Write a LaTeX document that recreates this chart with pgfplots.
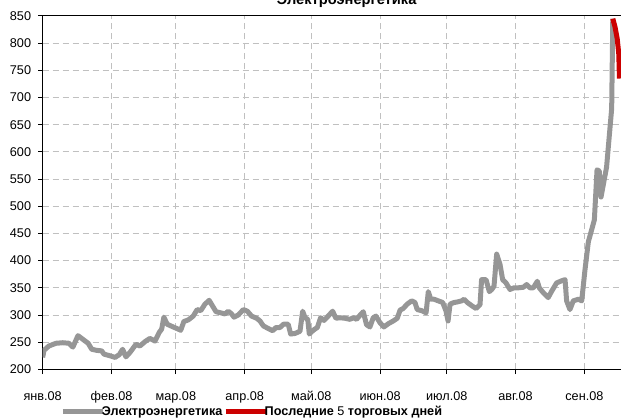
\documentclass[border=0pt]{standalone}
\usepackage{pgfplots}
\pgfplotsset{compat=1.18}
\usepackage{fontspec}
\setmainfont{Liberation Sans}
\definecolor{lgray}{RGB}{150,150,150}
\definecolor{dred}{RGB}{204,0,0}
\definecolor{gridc}{RGB}{192,192,192}

\pgfplotstableread{
day val
0 222
0.6 235
2.8 243
6 248
9.1 249
11.8 248
13.6 241
15.9 262
18.2 255
20.5 248
22.1 237
24.3 235
26.6 234
27.6 228
30.3 225
32.6 222
34.5 227
36 237
37.5 223
39.3 231
42 246
43.8 243
46.1 251
48.3 257
50.6 252
52.5 268
53.6 274
54.6 296
56.1 283
58.8 278
62.2 272
63.6 288
65.6 291
67.8 298
69.6 310
71.2 308
73.1 320
75 327
76.6 316
78.1 306
80.2 304
82.1 302
83.6 307
85.1 302
86.2 296
88.1 300
90.4 310
92.2 307
94.1 298
96.4 294
97.9 289
99.4 280
101.2 276
103.6 271
105.1 277
106.9 277
108.4 283
110.6 283
111.7 265
113.6 266
115.9 270
117.1 307
118.2 295
119.4 292
120.1 265
121.9 272
123.7 277
125.2 295
126.7 290
128.6 298
130.6 307
132.1 294
133.9 295
136.2 294
138.4 292
139.9 295
141.4 292
142.6 298
144.4 306
145.9 282
147.4 278
148.9 295
150.1 298
151.9 286
153.7 278
155.7 284
157.9 289
159.7 294
161 309
162.4 312
164.2 320
166.2 326
167.7 323
168.7 310
170.7 308
172.7 304
173.7 343
174.8 329
176.3 329
178.2 326
180.2 323
181.7 307
182.6 289
183.5 320
185.3 323
186.8 324
188.7 326
189.8 329
191.3 323
193.3 317
195.2 312
197 319
197.7 365
199.7 365
201.2 343
202.3 347
203.3 353
204.5 412
206 393
207.2 365
208.7 359
210.5 347
212.3 350
214.2 350
216.5 351
218 356
219.5 350
221 350
222.8 362
223.7 350
225.5 341
227.7 332
229.3 344
231.5 359
233.8 363
235.3 365
236 326
237.5 310
239 326
241.3 329
242.8 326
244.3 384
245.8 435
247.3 457
248.5 475
249.7 567
250.7 565
251.5 517
254 572
256.3 680
256.8 845
}\maindata

\pgfplotstableread{
day val
256.8 845
257.8 830
258.8 808
259.5 780
259.8 735
}\lastdata

\begin{document}
\begin{tikzpicture}
\begin{axis}[
  scale only axis,
  width=433.7pt, height=265pt,
  xmin=0, xmax=260.5, ymin=200, ymax=850,
  ytick={200,250,...,850},
  xtick={0,31,60,91,121,152,182,213,244},
  xticklabels={янв.08,фев.08,мар.08,апр.08,май.08,июн.08,июл.08,авг.08,сен.08},
  grid=major,
  major grid style={gridc, dash pattern=on 4.5pt off 3pt, line width=0.75pt},
  axis line style={black, line width=0.75pt},
  tick style={black, line width=0.75pt},
  major tick length=3.5pt,
  tick align=outside,
  xtick pos=bottom, ytick pos=left,
  ticklabel style={font=\fontsize{9.5}{11}\selectfont},
  /pgf/number format/assume math mode=true,
  yticklabel style={anchor=east, inner sep=0pt, xshift=-5pt},
  xticklabel style={anchor=base, inner sep=0pt, yshift=-20pt},
  legend columns=2,
  legend style={draw=none, fill=none, at={(0.03,-0.12)}, anchor=west,
    inner sep=0pt, font=\fontsize{9.5}{11}\selectfont\bfseries,
    /tikz/every even column/.append style={column sep=0pt},
    /tikz/every odd column/.append style={column sep=-3pt},
    nodes={inner sep=0.5pt}},
  legend image code/.code={\draw[#1] (0pt,0pt) -- (30pt,0pt);},
  line join=round,
]
\addplot[lgray, line width=3.75pt] table[x=day,y=val] {\maindata};
\addlegendentry{Электроэнергетика}
\addplot[dred, line width=3.75pt] table[x=day,y=val] {\lastdata};
\addlegendentry{Последние \textmd{5} торговых дней}
\coordinate (SW) at (rel axis cs:0,0);
\coordinate (NE) at (rel axis cs:1,1);
\coordinate (TT) at (rel axis cs:0.5257,1);
\end{axis}
\node[font=\fontsize{11}{13}\selectfont\bfseries, anchor=base, yshift=8.5pt, inner sep=0pt] at (TT) {Электроэнергетика};
\pgfresetboundingbox
\path[use as bounding box] ([xshift=-32pt,yshift=-37.3pt]SW) rectangle ([yshift=12pt]NE);
\end{tikzpicture}
\end{document}
